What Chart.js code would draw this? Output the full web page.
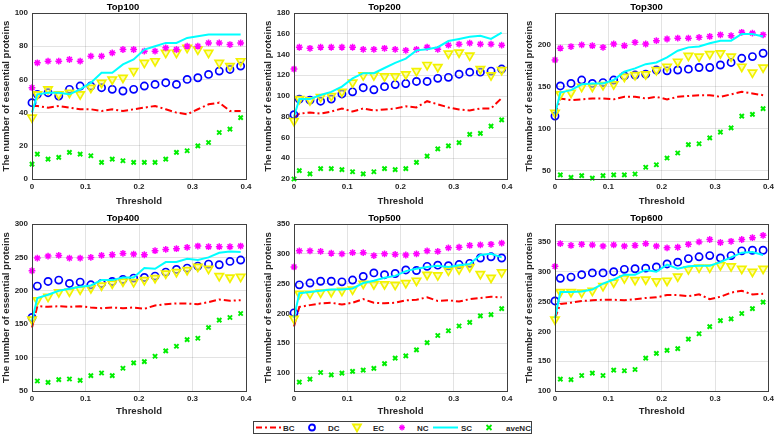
<!DOCTYPE html>
<html>
<head>
<meta charset="utf-8">
<script src="https://cdn.jsdelivr.net/npm/chart.js@4.4.1/dist/chart.umd.min.js"></script>
<style>
  html, body { margin:0; padding:0; background:#fff; width:777px; height:436px; overflow:hidden; }
  canvas { position:absolute; }
  #legend { position:absolute; left:253px; top:421px; }
</style>
</head>
<body>
<canvas id="c100"></canvas>
<canvas id="c200"></canvas>
<canvas id="c300"></canvas>
<canvas id="c400"></canvas>
<canvas id="c500"></canvas>
<canvas id="c600"></canvas>
<svg id="legend" width="280" height="14" xmlns="http://www.w3.org/2000/svg"></svg>
<script>
// ---------- data ----------
const thresholds = [0, 0.01, 0.03, 0.05, 0.07, 0.09, 0.11, 0.13, 0.15, 0.17, 0.19, 0.21, 0.23, 0.25, 0.27, 0.29, 0.31, 0.33, 0.35, 0.37, 0.39];
const seriesNames = ['BC', 'DC', 'EC', 'NC', 'SC', 'aveNC'];
const xTickValues = [0, 0.1, 0.2, 0.3, 0.4];
const xTickLabels = ['0', '0.1', '0.2', '0.3', '0.4'];

// Top100
const BC100 = [44, 44, 43, 44, 43, 42, 42, 41, 42, 41, 42, 43, 44, 42, 40, 39, 42, 45, 46, 41, 41];
const DC100 = [46, 51, 52, 50, 54, 56, 56, 55, 54, 53, 54, 56, 57, 58, 57, 60, 61, 63, 65, 66, 68];
const EC100 = [37, 51, 54, 51, 52, 51, 55, 58, 60, 61, 65, 70, 71, 76, 76, 79, 78, 76, 70, 68, 71];
const NC100 = [55, 70, 71, 71, 72, 71, 74, 74, 76, 78, 78, 77, 77, 79, 78, 80, 80, 82, 82, 81, 82];
const SC100 = [40, 51, 52, 52, 51, 54, 58, 64, 64, 69, 72, 78, 80, 82, 82, 85, 86, 87, 87, 87, 87];
const AVE100 = [9, 15, 12, 13, 16, 15, 14, 10, 12, 11, 10, 10, 10, 12, 16, 17, 20, 22, 28, 30, 37];
const yTicks100 = [0, 20, 40, 60, 80, 100];

// Top200
const BC200 = [79, 83, 84, 83, 85, 88, 85, 88, 86, 87, 88, 90, 89, 95, 92, 89, 87, 86, 88, 88, 98];
const DC200 = [82, 97, 96, 95, 97, 102, 104, 108, 106, 109, 111, 112, 114, 114, 117, 118, 121, 123, 123, 124, 126];
const EC200 = [76, 97, 96, 99, 100, 104, 113, 120, 120, 119, 119, 121, 124, 130, 128, 141, 142, 139, 126, 120, 125];
const NC200 = [126, 147, 146, 147, 147, 147, 147, 145, 145, 146, 145, 144, 145, 147, 145, 149, 150, 151, 150, 150, 149];
const SC200 = [80, 97, 97, 101, 104, 109, 117, 122, 122, 127, 132, 136, 144, 145, 147, 153, 155, 157, 158, 155, 161];
const AVE200 = [20, 28, 25, 30, 30, 29, 27, 25, 27, 30, 29, 30, 36, 42, 49, 52, 55, 63, 64, 71, 77];
const yTicks200 = [20, 40, 60, 80, 100, 120, 140, 160, 180];

// Top300
const BC300 = [117, 136, 134, 135, 136, 136, 135, 138, 138, 136, 138, 135, 138, 139, 140, 140, 138, 141, 144, 142, 140];
const DC300 = [115, 151, 154, 158, 154, 155, 158, 163, 164, 165, 170, 169, 170, 171, 173, 173, 176, 179, 184, 186, 190];
const EC300 = [119, 141, 143, 150, 150, 152, 153, 162, 164, 165, 170, 174, 180, 187, 186, 189, 190, 186, 174, 167, 173];
const NC300 = [182, 196, 198, 200, 199, 197, 201, 199, 203, 201, 205, 207, 208, 208, 209, 210, 212, 211, 215, 214, 212];
const SC300 = [117, 143, 146, 153, 154, 154, 158, 168, 172, 177, 179, 185, 193, 197, 198, 202, 205, 205, 213, 213, 210];
const AVE300 = [null, 45, 42, 44, 41, 44, 45, 45, 46, 54, 57, 65, 71, 81, 82, 89, 96, 101, 115, 117, 124];
const yTicks300 = [50, 100, 150, 200];

// Top400
const BC400 = [145, 177, 176, 177, 176, 177, 175, 174, 175, 174, 175, 173, 178, 180, 181, 181, 180, 183, 187, 185, 186];
const DC400 = [160, 207, 214, 216, 211, 213, 209, 211, 214, 217, 219, 220, 222, 228, 232, 234, 237, 240, 239, 244, 246];
const EC400 = [157, 186, 191, 198, 199, 202, 204, 208, 211, 214, 213, 216, 219, 226, 228, 231, 236, 233, 222, 220, 221];
const NC400 = [230, 249, 252, 253, 249, 249, 250, 253, 254, 256, 255, 254, 260, 262, 263, 265, 267, 266, 266, 266, 267];
const SC400 = [155, 189, 194, 200, 203, 206, 208, 216, 216, 220, 220, 234, 233, 243, 243, 248, 246, 250, 257, 259, 258];
const AVE400 = [null, 65, 63, 67, 68, 66, 73, 77, 73, 84, 92, 94, 102, 110, 117, 127, 129, 145, 156, 160, 166];
const yTicks400 = [50, 100, 150, 200, 250, 300];

// Top500
const BC500 = [178, 211, 214, 217, 218, 215, 218, 224, 218, 217, 218, 222, 223, 227, 221, 222, 220, 224, 226, 228, 227];
const DC500 = [201, 248, 251, 254, 254, 253, 256, 262, 268, 265, 267, 273, 272, 279, 281, 280, 282, 284, 293, 295, 293];
const EC500 = [191, 233, 233, 235, 236, 238, 240, 250, 249, 249, 248, 251, 255, 265, 264, 272, 274, 278, 266, 260, 269];
const NC500 = [278, 305, 305, 304, 301, 300, 302, 302, 297, 300, 299, 298, 300, 305, 304, 310, 311, 314, 315, 316, 318];
const SC500 = [193, 234, 236, 238, 240, 240, 242, 251, 255, 260, 263, 271, 275, 278, 280, 278, 281, 283, 298, 300, 294];
const AVE500 = [null, 85, 90, 101, 97, 100, 103, 105, 108, 116, 125, 129, 139, 151, 163, 171, 179, 185, 196, 198, 208];
const yTicks500 = [100, 150, 200, 250, 300, 350];

// Top600
const BC600 = [222, 246, 248, 251, 252, 253, 253, 252, 254, 256, 257, 261, 261, 259, 262, 254, 258, 265, 268, 262, 263];
const DC600 = [251, 289, 291, 295, 298, 298, 300, 304, 305, 306, 308, 313, 316, 322, 325, 327, 323, 327, 335, 336, 336];
const EC600 = [220, 266, 266, 265, 268, 276, 282, 289, 286, 287, 284, 285, 292, 304, 307, 307, 311, 309, 305, 300, 305];
const NC600 = [309, 347, 344, 346, 345, 343, 345, 343, 344, 347, 343, 340, 341, 346, 350, 354, 349, 351, 354, 357, 361];
const SC600 = [222, 266, 266, 267, 270, 280, 287, 295, 295, 303, 300, 312, 305, 309, 310, 310, 316, 324, 332, 333, 328];
const AVE600 = [null, 120, 119, 126, 130, 126, 135, 134, 136, 155, 163, 168, 171, 187, 196, 208, 218, 221, 230, 238, 249];
const yTicks600 = [100, 150, 200, 250, 300, 350];

// ---------- styling / layout ----------
const FONT = "'Liberation Sans', Arial, Helvetica, sans-serif";
const COLORS = { BC:'#ff0000', DC:'#0000ff', EC:'#f2f200', NC:'#ff00ff', SC:'#00ffff', aveNC:'#00ee00' };

const panels = [
  { id:'c100', title:'Top100', col:0, row:0, ymin:0,  ymax:100, yt:yTicks100, s:[BC100,DC100,EC100,NC100,SC100,AVE100] },
  { id:'c200', title:'Top200', col:1, row:0, ymin:20, ymax:180, yt:yTicks200, s:[BC200,DC200,EC200,NC200,SC200,AVE200] },
  { id:'c300', title:'Top300', col:2, row:0, ymin:40, ymax:238, yt:yTicks300, s:[BC300,DC300,EC300,NC300,SC300,AVE300] },
  { id:'c400', title:'Top400', col:0, row:1, ymin:50, ymax:300, yt:yTicks400, s:[BC400,DC400,EC400,NC400,SC400,AVE400] },
  { id:'c500', title:'Top500', col:1, row:1, ymin:70, ymax:350, yt:yTicks500, s:[BC500,DC500,EC500,NC500,SC500,AVE500] },
  { id:'c600', title:'Top600', col:2, row:1, ymin:100, ymax:380, yt:yTicks600, s:[BC600,DC600,EC600,NC600,SC600,AVE600] }
];

const colGeom = [ {x0:0, w:256, plotLeft:32, plotRight:246}, {x0:262, w:255, plotLeft:294, plotRight:507}, {x0:523, w:254, plotLeft:555, plotRight:770} ];
const rowGeom = [ {y0:0, h:207, padTop:1, xAxisH:28}, {y0:205, h:212, padTop:7, xAxisH:26} ];

const boxPlugin = {
  id:'boxPlugin',
  afterDraw(chart) {
    const a = chart.chartArea, ctx = chart.ctx;
    ctx.save();
    ctx.strokeStyle = '#404040';
    ctx.lineWidth = 1;
    ctx.strokeRect(Math.round(a.left)+0.5, Math.round(a.top)+0.5, Math.round(a.right-a.left), Math.round(a.bottom-a.top));
    ctx.restore();
  }
};

function pts(vals) { return thresholds.map((t,i) => ({x:t, y:vals[i]})); }

const CLIP = { left:7, right:7, top:7, bottom:3 };

function makeDatasets(s) {
  return [
    { label:'BC', data:pts(s[0]), borderColor:COLORS.BC, borderWidth:2, borderDash:[7,3,2,3], pointRadius:0, fill:false, tension:0, order:6, clip:CLIP },
    { label:'DC', data:pts(s[1]), showLine:false, pointStyle:'circle', pointRadius:3.6, pointBorderWidth:1.7, pointBorderColor:COLORS.DC, pointBackgroundColor:'rgba(0,0,0,0)', borderColor:COLORS.DC, order:5, clip:CLIP },
    { label:'EC', data:pts(s[2]), showLine:false, pointStyle:'triangle', pointRotation:180, pointRadius:4.8, pointBorderWidth:1.7, pointBorderColor:COLORS.EC, pointBackgroundColor:'rgba(255,255,80,0.45)', borderColor:COLORS.EC, order:4, clip:CLIP },
    { label:'NC', data:pts(s[3]), showLine:false, pointStyle:'star', pointRadius:3.4, pointBorderWidth:1.5, pointBorderColor:COLORS.NC, pointBackgroundColor:COLORS.NC, borderColor:COLORS.NC, order:3, clip:CLIP },
    { label:'SC', data:pts(s[4]), borderColor:COLORS.SC, borderWidth:2, pointRadius:0, fill:false, tension:0, order:2, clip:CLIP },
    { label:'aveNC', data:pts(s[5]), showLine:false, pointStyle:'crossRot', pointRadius:3, pointBorderWidth:2, pointBorderColor:COLORS.aveNC, pointBackgroundColor:COLORS.aveNC, borderColor:COLORS.aveNC, order:1, clip:CLIP }
  ];
}

panels.forEach(p => {
  const cg = colGeom[p.col], rg = rowGeom[p.row];
  const cv = document.getElementById(p.id);
  cv.width = cg.w; cv.height = rg.h;
  cv.style.left = cg.x0 + 'px'; cv.style.top = rg.y0 + 'px';
  cv.style.width = cg.w + 'px'; cv.style.height = rg.h + 'px';
  const yAxisW = cg.plotLeft - cg.x0;
  new Chart(cv, {
    type:'line',
    data:{ datasets: makeDatasets(p.s) },
    options:{
      responsive:false, animation:false, devicePixelRatio:1, events:[],
      layout:{ padding:{ left:0, top:rg.padTop, right:cg.x0 + cg.w - cg.plotRight, bottom:0 } },
      plugins:{
        legend:{ display:false }, tooltip:{ enabled:false },
        title:{ display:true, text:p.title, color:'#000', padding:{top:0,bottom:0}, font:{ family:FONT, size:9.5, weight:'bold', lineHeight:'12px' } }
      },
      scales:{
        x:{
          type:'linear', min:0, max:0.4,
          afterBuildTicks(sc){ sc.ticks = xTickValues.map(v => ({value:v})); },
          afterFit(sc){ sc.height = rg.xAxisH; },
          ticks:{ padding:3, color:'#262626', font:{ family:FONT, size:8, weight:'bold' }, maxRotation:0,
                  callback(v){ const i = xTickValues.indexOf(v); return i >= 0 ? xTickLabels[i] : ''; } },
          grid:{ color:'rgba(38,38,38,0.13)', drawTicks:false },
          border:{ display:false },
          title:{ display:true, text:'Threshold', color:'#262626', padding:{top:0,bottom:0}, font:{ family:FONT, size:9.5, weight:'bold', lineHeight:1.2 } }
        },
        y:{
          min:p.ymin, max:p.ymax,
          afterBuildTicks(sc){ sc.ticks = p.yt.map(v => ({value:v})); },
          afterFit(sc){ sc.width = yAxisW; },
          ticks:{ padding:4, color:'#262626', font:{ family:FONT, size:8, weight:'bold' } },
          grid:{ color:'rgba(38,38,38,0.13)', drawTicks:false },
          border:{ display:false },
          title:{ display:true, text:'The number of essential proteins', color:'#262626', padding:{top:1,bottom:0}, font:{ family:FONT, size:9.6, weight:'bold', lineHeight:1.2 } }
        }
      }
    },
    plugins:[boxPlugin]
  });
});

// ---------- legend (SVG, real text) ----------
(function(){
  const svg = document.getElementById('legend');
  const NS = 'http://www.w3.org/2000/svg';
  function el(tag, attrs){ const e = document.createElementNS(NS, tag); for (const k in attrs) e.setAttribute(k, attrs[k]); svg.appendChild(e); return e; }
  el('rect', {x:0.5, y:0.5, width:278, height:12, fill:'#fff', stroke:'#404040', 'stroke-width':1});
  const cy = 6.5;
  el('line', {x1:3, y1:cy, x2:28, y2:cy, stroke:COLORS.BC, 'stroke-width':2, 'stroke-dasharray':'6 3 2 3'});
  el('circle', {cx:59, cy:cy, r:3, fill:'none', stroke:COLORS.DC, 'stroke-width':1.8});
  el('polygon', {points:`${104-4},${cy-3} ${104+4},${cy-3} ${104},${cy+4}`, fill:'rgba(255,255,80,0.45)', stroke:COLORS.EC, 'stroke-width':1.8});
  const nx = 149, r = 3;
  [[r,0],[0,r],[r*0.7,r*0.7],[r*0.7,-r*0.7]].forEach(([dx,dy]) => el('line', {x1:nx-dx, y1:cy-dy, x2:nx+dx, y2:cy+dy, stroke:COLORS.NC, 'stroke-width':1.4}));
  el('line', {x1:180, y1:cy, x2:205, y2:cy, stroke:COLORS.SC, 'stroke-width':2});
  const ax = 236, q = 2.5;
  el('line', {x1:ax-q, y1:cy-q, x2:ax+q, y2:cy+q, stroke:COLORS.aveNC, 'stroke-width':1.8});
  el('line', {x1:ax-q, y1:cy+q, x2:ax+q, y2:cy-q, stroke:COLORS.aveNC, 'stroke-width':1.8});
  const labelX = [30, 75, 120, 164, 208, 253];
  seriesNames.forEach((n,i) => {
    const t = el('text', {x:labelX[i], y:9.5, 'font-family':FONT, 'font-size':8, 'font-weight':'bold', fill:'#262626'});
    t.textContent = n;
  });
})();
</script>
</body>
</html>
